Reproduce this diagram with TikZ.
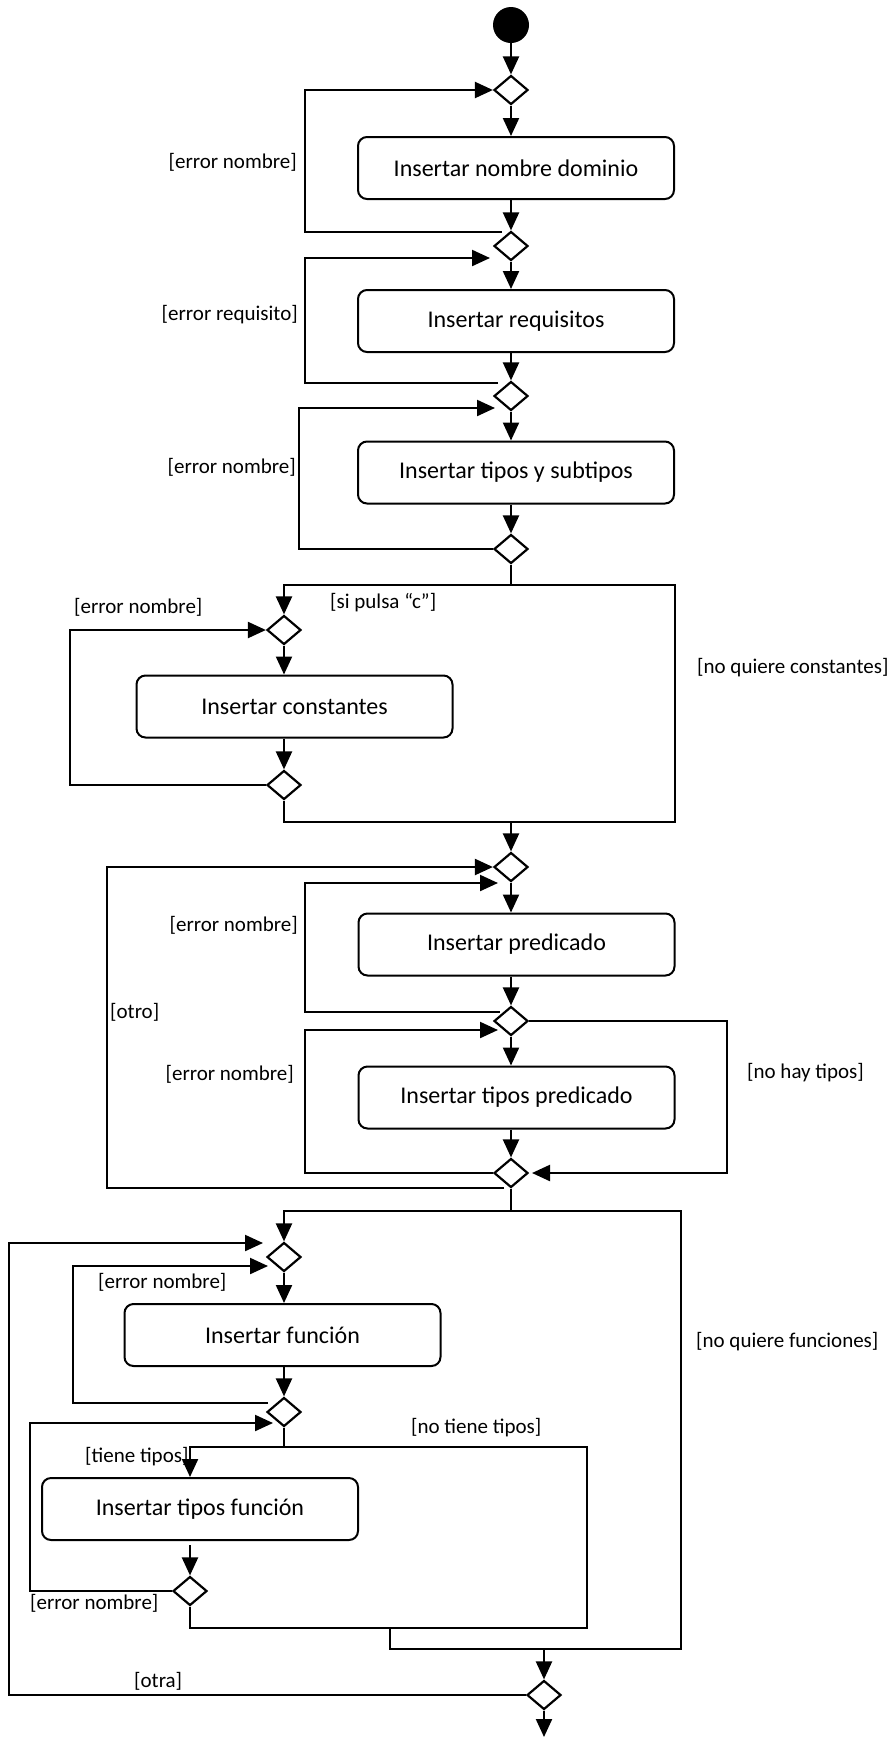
\documentclass[tikz,border=0pt]{standalone}
\usepackage{fontspec}
\setmainfont{Carlito}
\usetikzlibrary{shapes.geometric,arrows.meta}
\begin{document}
\begin{tikzpicture}[x=1pt,y=-1pt,
  flow/.style={line width=2.2pt},
  arr/.style={flow,-{Triangle[length=18pt,width=16pt]}},
  act/.style={draw,line width=2pt,rounded corners=9pt,minimum width=316pt,
    minimum height=62pt,inner sep=0pt,font=\fontsize{24}{28}\selectfont},
  dec/.style={draw,diamond,line width=2.2pt,minimum width=34pt,
    minimum height=29pt,inner sep=0pt},
  guard/.style={inner sep=0pt,font=\fontsize{21}{25}\selectfont},
]
\useasboundingbox (0,0) rectangle (891,1738);

% start node
\node[circle,fill=black,minimum size=36pt,inner sep=0pt] (s) at (511,25) {};

% decision / merge nodes
\node[dec] (d1)  at (511,90)   {};
\node[dec] (d2)  at (511,246)  {};
\node[dec] (d3)  at (511,396)  {};
\node[dec] (d4)  at (511,549)  {};
\node[dec] (d5)  at (284,630)  {};
\node[dec] (d6)  at (284,785)  {};
\node[dec] (d7)  at (511,867)  {};
\node[dec] (d8)  at (511,1021) {};
\node[dec] (d9)  at (511,1173) {};
\node[dec] (d10) at (284,1257) {};
\node[dec] (d11) at (284,1412) {};
\node[dec] (d12) at (190,1591) {};
\node[dec] (d13) at (544,1695) {};

% activities
\node[act] (b1) at (516,168)    {Insertar nombre dominio};
\node[act] (b2) at (516,321)    {Insertar requisitos};
\node[act] (b3) at (516,472.5)  {Insertar tipos y subtipos};
\node[act] (b4) at (294.5,706.5){Insertar constantes};
\node[act] (b5) at (516.5,944.5){Insertar predicado};
\node[act] (b6) at (516.5,1097.5){Insertar tipos predicado};
\node[act] (b7) at (282.5,1335) {Insertar función};
\node[act] (b8) at (200,1509)   {Insertar tipos función};

% junctions and corners
\coordinate (j1)  at (511,585);
\coordinate (c1a) at (675,585);
\coordinate (c1b) at (675,822);
\coordinate (j2)  at (511,822);
\coordinate (j3)  at (511,1211);
\coordinate (c3a) at (681,1211);
\coordinate (c3b) at (681,1649);
\coordinate (j4)  at (284,1447);
\coordinate (c4a) at (587,1447);
\coordinate (c4b) at (587,1628);
\coordinate (m1)  at (390,1628);
\coordinate (fin) at (544,1737);

% loop start points, columns and tips
\coordinate (e1)  at (502,232);  \coordinate (k1)  at (305,160);
\coordinate (e2)  at (498,383);  \coordinate (k2)  at (305,320);  \coordinate (t2)  at (490,258);
\coordinate (k3)  at (299,480);  \coordinate (t3)  at (495,408);
\coordinate (k4)  at (70,700);
\coordinate (e5)  at (504,1188); \coordinate (k5)  at (107,1000);
\coordinate (e6)  at (500,1012); \coordinate (k6)  at (305,950);  \coordinate (t6)  at (498,883);
\coordinate (k7)  at (305,1100); \coordinate (t7)  at (498,1030);
\coordinate (k8)  at (727,1100); \coordinate (t8)  at (532,1173);
\coordinate (k9)  at (9,1450);   \coordinate (t9)  at (263,1243);
\coordinate (e10) at (268,1403); \coordinate (k10) at (73,1330); \coordinate (t10) at (268,1266);
\coordinate (k11) at (30,1500);  \coordinate (t11) at (273,1423);

% main flow
\draw[arr] (s) -- (d1.north);
\draw[arr] (d1.south) -- (d1.south |- b1.north);
\draw[arr] (d2.north |- b1.south) -- (d2.north);
\draw[arr] (d2.south) -- (d2.south |- b2.north);
\draw[arr] (d3.north |- b2.south) -- (d3.north);
\draw[arr] (d3.south) -- (d3.south |- b3.north);
\draw[arr] (d4.north |- b3.south) -- (d4.north);

% constants block
\draw[flow] (d4.south) -- (j1);
\draw[arr] (j1) -| (d5.north);
\draw[flow] (j1) -- (c1a) -- (c1b) -| (d6.south);
\draw[arr] (d5.south) -- (d5.south |- b4.north);
\draw[arr] (d6.north |- b4.south) -- (d6.north);
\draw[arr] (j2) -- (d7.north);

% predicates block
\draw[arr] (d7.south) -- (d7.south |- b5.north);
\draw[arr] (d8.north |- b5.south) -- (d8.north);
\draw[arr] (d8.south) -- (d8.south |- b6.north);
\draw[arr] (d9.north |- b6.south) -- (d9.north);
\draw[arr] (d8.east) -| (k8) |- (t8);

% functions block
\draw[flow] (d9.south) -- (j3);
\draw[arr] (j3) -| (d10.north);
\draw[arr] (d10.south) -- (d10.south |- b7.north);
\draw[arr] (d11.north |- b7.south) -- (d11.north);
\draw[flow] (d11.south) -- (j4);
\draw[arr] (j4) -| (d12.north |- b8.north);
\draw[flow] (j4) -- (c4a) -- (c4b) -| (d12.south);
\draw[arr, shorten <=4pt] (d12.north |- b8.south) -- (d12.north);
\draw[flow] (m1) |- (c3b) -- (c3a) -- (j3);
\draw[arr] (d13.north |- c3b) -- (d13.north);
\draw[arr] (d13.south) -- (fin);

% return loops
\draw[arr] (e1) -| (k1) |- (d1.west);
\draw[arr] (e2) -| (k2) |- (t2);
\draw[arr] (d4.west) -| (k3) |- (t3);
\draw[arr] (d6.west) -| (k4) |- (d5.west);
\draw[arr] (e5) -| (k5) |- (d7.west);
\draw[arr] (e6) -| (k6) |- (t6);
\draw[arr] (d9.west) -| (k7) |- (t7);
\draw[arr] (d13.west) -| (k9) |- (t9);
\draw[arr] (e10) -| (k10) |- (t10);
\draw[arr] (d12.west) -| (k11) |- (t11);

% guards
\node[guard,anchor=east] (g1)  at (297,162)  {[error nombre]};
\node[guard,anchor=east] (g2)  at (298,315)  {[error requisito]};
\node[guard,anchor=east] (g3)  at (296,467)  {[error nombre]};
\node[guard,anchor=west] (g4)  at (330,603)  {[si pulsa “c”]};
\node[guard,anchor=west] (g5)  at (74,607)   {[error nombre]};
\node[guard,anchor=west] (g6)  at (697,668)  {[no quiere constantes]};
\node[guard,anchor=east] (g7)  at (298,925)  {[error nombre]};
\node[guard,anchor=west] (g8)  at (110,1012) {[otro]};
\node[guard,anchor=east] (g9)  at (294,1074) {[error nombre]};
\node[guard,anchor=west] (g10) at (747,1073) {[no hay tipos]};
\node[guard,anchor=west] (g11) at (98,1282)  {[error nombre]};
\node[guard,anchor=west] (g12) at (696,1342) {[no quiere funciones]};
\node[guard,anchor=west] (g13) at (411,1428) {[no tiene tipos]};
\node[guard,anchor=west] (g14) at (85,1457)  {[tiene tipos]};
\node[guard,anchor=west] (g15) at (30,1603)  {[error nombre]};
\node[guard,anchor=west] (g16) at (134,1681) {[otra]};
\end{tikzpicture}
\end{document}
